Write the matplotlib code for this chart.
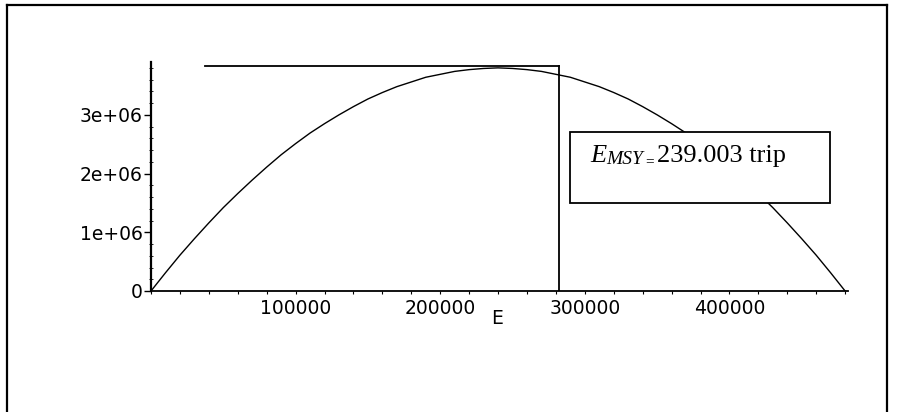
import matplotlib
matplotlib.use("Agg")
import matplotlib.pyplot as plt
from matplotlib.lines import Line2D
from matplotlib.patches import Rectangle
from matplotlib.ticker import MultipleLocator, FixedLocator

# yield curve (effort E in trips, yield)
effort = [0, 10000, 20000, 30000, 40000, 50000, 60000, 70000, 80000, 90000,
          100000, 110000, 120000, 130000, 140000, 150000, 160000, 170000,
          180000, 190000, 200000, 210000, 220000, 230000, 240000, 250000,
          260000, 270000, 280000, 290000, 300000, 310000, 320000, 330000,
          340000, 350000, 360000, 370000, 380000, 390000, 400000, 410000,
          420000, 430000, 440000, 450000, 460000, 470000, 480000]
yield_ = [0.0, 0.31e6, 0.61e6, 0.89e6, 1.16e6, 1.42e6, 1.66e6, 1.89e6, 2.11e6,
          2.32e6, 2.51e6, 2.69e6, 2.85e6, 3.00e6, 3.14e6, 3.27e6, 3.38e6,
          3.48e6, 3.56e6, 3.64e6, 3.69e6, 3.74e6, 3.77e6, 3.79e6, 3.80e6,
          3.79e6, 3.77e6, 3.74e6, 3.69e6, 3.64e6, 3.56e6, 3.48e6, 3.38e6,
          3.27e6, 3.14e6, 3.00e6, 2.85e6, 2.69e6, 2.51e6, 2.32e6, 2.11e6,
          1.89e6, 1.66e6, 1.42e6, 1.16e6, 0.89e6, 0.61e6, 0.31e6, 0.0]

# reference lines
hline_y = 3.83e6
hline_x = [37600, 282200]
vline_x = 282200

x_ticks = [100000, 200000, 300000, 400000]
x_ticklabels = ["100000", "200000", "300000", "400000"]
y_ticks = [0, 1e6, 2e6, 3e6]
y_ticklabels = ["0", "1e+06", "2e+06", "3e+06"]

W, H = 912, 412
fig = plt.figure(figsize=(W / 100, H / 100), dpi=100)
ax = fig.add_axes([151 / W, (H - 291) / H, (848 - 151) / W, (291 - 62) / H])

ax.plot(effort, yield_, color="black", lw=1.0)
ax.plot(hline_x, [hline_y, hline_y], color="black", lw=1.3)
ax.plot([vline_x, vline_x], [0, hline_y], color="black", lw=1.3)

ax.set_xlim(0, 482000)
ax.set_ylim(0, 3.9e6)

for side in ["top", "right"]:
    ax.spines[side].set_visible(False)
ax.spines["left"].set_linewidth(1.6)
ax.spines["bottom"].set_linewidth(1.3)

ax.xaxis.set_major_locator(FixedLocator(x_ticks))
ax.set_xticklabels(x_ticklabels)
ax.xaxis.set_minor_locator(MultipleLocator(20000))
ax.yaxis.set_major_locator(FixedLocator(y_ticks))
ax.set_yticklabels(y_ticklabels)
ax.yaxis.set_minor_locator(MultipleLocator(2e5))

ax.tick_params(axis="x", which="both", direction="out", length=2.5, width=0.8,
               labelsize=13.5, pad=3)
ax.tick_params(axis="y", which="major", direction="out", length=5, width=1.0,
               labelsize=13.5, pad=1)
ax.tick_params(axis="y", which="minor", direction="inout", length=2.5, width=0.6)

ax.set_xlabel("E", fontsize=13.5)
ax.xaxis.set_label_coords((497 - 151) / (848 - 151), -(319 - 291) / (291 - 62),
                          transform=ax.transAxes)
ax.xaxis.label.set_verticalalignment("center")

# annotation box
box = Rectangle((570 / W, (H - 203) / H), (830 - 570) / W, (203 - 132) / H,
                transform=fig.transFigure, facecolor="white", edgecolor="black",
                lw=1.3, zorder=5)
fig.add_artist(box)
serif = "Liberation Serif"
fig.text(590 / W, (H - 162) / H, "E", fontsize=19, family=serif,
         style="italic", ha="left", va="baseline", zorder=6)
fig.text(606 / W, (H - 164) / H, "MSY", fontsize=14, family=serif,
         style="italic", ha="left", va="baseline", zorder=6)
fig.text(650 / W, (H - 165) / H, "=", fontsize=11, family=serif,
         ha="center", va="baseline", zorder=6)
fig.text(657 / W, (H - 162) / H, "239.003 trip", fontsize=19, family=serif,
         ha="left", va="baseline", zorder=6)

# outer frame
frame_kw = dict(color="black", lw=1.6, transform=fig.transFigure)
fig.add_artist(Line2D([7 / W, 7 / W], [0, (H - 5) / H], **frame_kw))
fig.add_artist(Line2D([7 / W, 887 / W], [(H - 5) / H, (H - 5) / H], **frame_kw))
fig.add_artist(Line2D([887 / W, 887 / W], [0, (H - 5) / H], **frame_kw))

fig.savefig("out.png", dpi=100)
